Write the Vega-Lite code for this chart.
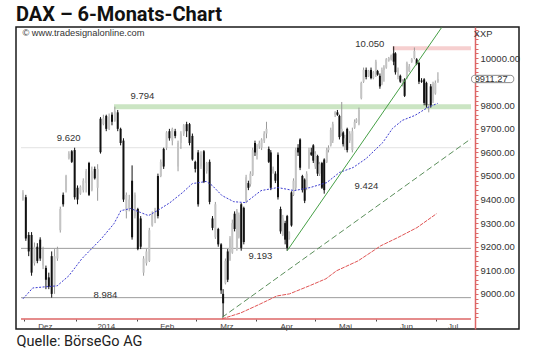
{
  "$schema": "https://vega.github.io/schema/vega-lite/v6.json",
  "width": 503,
  "height": 302,
  "autosize": {"type": "none"},
  "padding": {"left": 16, "top": 27, "right": 21, "bottom": 31},
  "background": "white",
  "title": {"text": "DAX – 6-Monats-Chart", "anchor": "start", "frame": "group", "offset": -16, "baseline": "alphabetic", "font": "Roboto", "fontSize": 20, "fontWeight": "bold", "color": "#111111"},
  "config": {"view": {"stroke": "#1a1a1a", "strokeWidth": 1.5}},
  "datasets": {
    "bars": [
      {"t":0,"o":9400,"h":9440,"l":9395,"c":9430},{"t":1,"o":9410,"h":9420,"l":9225,"c":9235},{"t":2,"o":9250,"h":9262,"l":9160,"c":9180},{"t":3,"o":9250,"h":9262,"l":9077,"c":9090},{"t":4,"o":9130,"h":9218,"l":9120,"c":9200},{"t":5,"o":9200,"h":9215,"l":9130,"c":9140},{"t":6,"o":9230,"h":9240,"l":9140,"c":9150},{"t":7,"o":9120,"h":9200,"l":9105,"c":9190},{"t":8,"o":9110,"h":9120,"l":9020,"c":9060},{"t":9,"o":9070,"h":9090,"l":9020,"c":9030},
      {"t":10,"o":9160,"h":9180,"l":8984,"c":9000},{"t":11,"o":9030,"h":9190,"l":9000,"c":9160},{"t":12,"o":9150,"h":9200,"l":9140,"c":9190},{"t":13,"o":9270,"h":9370,"l":9260,"c":9360},{"t":14,"o":9420,"h":9430,"l":9370,"c":9380},{"t":15,"o":9440,"h":9505,"l":9430,"c":9500},{"t":16,"o":9575,"h":9605,"l":9570,"c":9595},{"t":17,"o":9605,"h":9610,"l":9555,"c":9560},{"t":18,"o":9610,"h":9620,"l":9400,"c":9410},{"t":19,"o":9450,"h":9460,"l":9380,"c":9400},
      {"t":20,"o":9425,"h":9460,"l":9420,"c":9455},{"t":21,"o":9440,"h":9490,"l":9430,"c":9480},{"t":22,"o":9470,"h":9530,"l":9430,"c":9520},{"t":23,"o":9555,"h":9560,"l":9415,"c":9420},{"t":24,"o":9440,"h":9540,"l":9435,"c":9520},{"t":25,"o":9530,"h":9540,"l":9485,"c":9490},{"t":26,"o":9450,"h":9550,"l":9395,"c":9530},{"t":27,"o":9743,"h":9750,"l":9595,"c":9601},{"t":28,"o":9720,"h":9760,"l":9715,"c":9745},{"t":29,"o":9755,"h":9760,"l":9690,"c":9700},
      {"t":30,"o":9700,"h":9765,"l":9695,"c":9750},{"t":31,"o":9760,"h":9770,"l":9715,"c":9730},{"t":32,"o":9735,"h":9794,"l":9730,"c":9775},{"t":33,"o":9770,"h":9780,"l":9690,"c":9700},{"t":34,"o":9700,"h":9705,"l":9630,"c":9640},{"t":35,"o":9650,"h":9660,"l":9390,"c":9400},{"t":36,"o":9350,"h":9430,"l":9320,"c":9420},{"t":37,"o":9360,"h":9420,"l":9350,"c":9400},{"t":38,"o":9480,"h":9545,"l":9230,"c":9240},{"t":39,"o":9330,"h":9430,"l":9320,"c":9420},
      {"t":40,"o":9360,"h":9365,"l":9185,"c":9190},{"t":41,"o":9320,"h":9330,"l":9190,"c":9200},{"t":42,"o":9090,"h":9160,"l":9077,"c":9150},{"t":43,"o":9130,"h":9190,"l":9120,"c":9180},{"t":44,"o":9140,"h":9280,"l":9135,"c":9270},{"t":45,"o":9290,"h":9350,"l":9285,"c":9340},{"t":46,"o":9320,"h":9365,"l":9300,"c":9355},{"t":47,"o":9500,"h":9510,"l":9320,"c":9330},{"t":48,"o":9500,"h":9570,"l":9495,"c":9560},{"t":49,"o":9615,"h":9620,"l":9530,"c":9540},
      {"t":50,"o":9620,"h":9690,"l":9610,"c":9685},{"t":51,"o":9690,"h":9700,"l":9650,"c":9660},{"t":52,"o":9650,"h":9705,"l":9630,"c":9700},{"t":53,"o":9690,"h":9700,"l":9660,"c":9670},{"t":54,"o":9540,"h":9650,"l":9520,"c":9640},{"t":55,"o":9640,"h":9690,"l":9615,"c":9680},{"t":56,"o":9680,"h":9720,"l":9670,"c":9715},{"t":57,"o":9720,"h":9730,"l":9665,"c":9690},{"t":58,"o":9720,"h":9725,"l":9630,"c":9640},{"t":59,"o":9670,"h":9680,"l":9565,"c":9570},
      {"t":60,"o":9560,"h":9565,"l":9515,"c":9530},{"t":61,"o":9600,"h":9610,"l":9370,"c":9380},{"t":62,"o":9540,"h":9605,"l":9530,"c":9590},{"t":63,"o":9605,"h":9610,"l":9470,"c":9475},{"t":64,"o":9520,"h":9560,"l":9510,"c":9555},{"t":65,"o":9560,"h":9570,"l":9380,"c":9390},{"t":66,"o":9320,"h":9330,"l":9270,"c":9280},{"t":67,"o":9240,"h":9390,"l":9233,"c":9380},{"t":68,"o":9275,"h":9280,"l":9200,"c":9210},{"t":69,"o":9210,"h":9215,"l":9000,"c":9015},
      {"t":69.7,"o":9000,"h":9020,"l":8900,"c":8960},{"t":70.5,"o":9045,"h":9150,"l":9040,"c":9140},{"t":71.3,"o":9180,"h":9190,"l":9050,"c":9060},{"t":72.1,"o":9145,"h":9245,"l":9140,"c":9235},{"t":72.9,"o":9175,"h":9315,"l":9170,"c":9300},{"t":73.7,"o":9340,"h":9350,"l":9265,"c":9275},{"t":74.5,"o":9190,"h":9360,"l":9183,"c":9350},{"t":75.2,"o":9240,"h":9345,"l":9235,"c":9335},{"t":76,"o":9380,"h":9385,"l":9183,"c":9195},{"t":76.9,"o":9365,"h":9370,"l":9210,"c":9220},
      {"t":77.7,"o":9395,"h":9505,"l":9385,"c":9495},{"t":78.5,"o":9470,"h":9480,"l":9440,"c":9450},{"t":79.2,"o":9465,"h":9520,"l":9455,"c":9510},{"t":80,"o":9505,"h":9620,"l":9500,"c":9610},{"t":80.8,"o":9640,"h":9650,"l":9585,"c":9600},{"t":81.5,"o":9590,"h":9635,"l":9570,"c":9625},{"t":82.3,"o":9625,"h":9650,"l":9615,"c":9640},{"t":83.1,"o":9620,"h":9660,"l":9610,"c":9655},{"t":84,"o":9650,"h":9690,"l":9640,"c":9680},{"t":84.8,"o":9680,"h":9730,"l":9660,"c":9700},
      {"t":85.6,"o":9615,"h":9625,"l":9555,"c":9560},{"t":86.3,"o":9600,"h":9610,"l":9440,"c":9450},{"t":87.1,"o":9520,"h":9540,"l":9510,"c":9530},{"t":87.9,"o":9510,"h":9520,"l":9470,"c":9480},{"t":88.8,"o":9590,"h":9600,"l":9400,"c":9410},{"t":89.7,"o":9360,"h":9370,"l":9255,"c":9265},{"t":90.5,"o":9250,"h":9335,"l":9245,"c":9320},{"t":91.3,"o":9300,"h":9310,"l":9210,"c":9230},{"t":92,"o":9330,"h":9335,"l":9183,"c":9195},{"t":92.7,"o":9235,"h":9265,"l":9230,"c":9260},
      {"t":93.5,"o":9430,"h":9435,"l":9285,"c":9290},{"t":94.2,"o":9420,"h":9490,"l":9415,"c":9480},{"t":95,"o":9450,"h":9620,"l":9440,"c":9610},{"t":95.8,"o":9620,"h":9635,"l":9585,"c":9600},{"t":96.5,"o":9655,"h":9660,"l":9525,"c":9535},{"t":97.3,"o":9500,"h":9505,"l":9430,"c":9440},{"t":98.1,"o":9485,"h":9490,"l":9385,"c":9395},{"t":98.8,"o":9450,"h":9520,"l":9440,"c":9510},{"t":99.6,"o":9535,"h":9620,"l":9530,"c":9610},{"t":100.4,"o":9600,"h":9620,"l":9585,"c":9590},
      {"t":101.1,"o":9630,"h":9635,"l":9555,"c":9565},{"t":101.8,"o":9540,"h":9605,"l":9530,"c":9595},{"t":102.6,"o":9585,"h":9590,"l":9500,"c":9510},{"t":103.3,"o":9510,"h":9560,"l":9500,"c":9550},{"t":104.1,"o":9555,"h":9560,"l":9445,"c":9450},{"t":104.9,"o":9570,"h":9575,"l":9425,"c":9440},{"t":105.8,"o":9560,"h":9620,"l":9555,"c":9610},{"t":106.4,"o":9610,"h":9630,"l":9600,"c":9620},{"t":107.2,"o":9630,"h":9705,"l":9625,"c":9695},{"t":107.9,"o":9650,"h":9730,"l":9640,"c":9720},
      {"t":108.7,"o":9760,"h":9775,"l":9750,"c":9770},{"t":109.5,"o":9770,"h":9780,"l":9755,"c":9760},{"t":110.2,"o":9755,"h":9760,"l":9655,"c":9665},{"t":111,"o":9680,"h":9814,"l":9670,"c":9700},{"t":111.5,"o":9685,"h":9690,"l":9625,"c":9635},{"t":112.1,"o":9620,"h":9675,"l":9610,"c":9660},{"t":112.9,"o":9700,"h":9705,"l":9600,"c":9610},{"t":113.8,"o":9650,"h":9690,"l":9640,"c":9680},{"t":114.7,"o":9610,"h":9705,"l":9600,"c":9690},{"t":115.5,"o":9705,"h":9740,"l":9700,"c":9730},
      {"t":116.1,"o":9730,"h":9745,"l":9725,"c":9740},{"t":117,"o":9720,"h":9790,"l":9715,"c":9780},{"t":117.8,"o":9830,"h":9900,"l":9825,"c":9895},{"t":118.6,"o":9900,"h":9960,"l":9895,"c":9950},{"t":119.5,"o":9950,"h":9960,"l":9910,"c":9920},{"t":120.4,"o":9925,"h":9950,"l":9920,"c":9945},{"t":121.2,"o":9950,"h":9960,"l":9910,"c":9915},{"t":122,"o":9915,"h":9945,"l":9910,"c":9940},{"t":122.9,"o":9930,"h":9993,"l":9920,"c":9985},{"t":123.5,"o":9945,"h":9950,"l":9925,"c":9930},
      {"t":124.3,"o":9925,"h":9935,"l":9870,"c":9880},{"t":125,"o":9890,"h":9960,"l":9885,"c":9950},{"t":125.7,"o":9950,"h":9970,"l":9900,"c":9960},{"t":126.5,"o":9960,"h":10000,"l":9955,"c":9995},{"t":127.4,"o":9990,"h":10005,"l":9985,"c":10000},{"t":128.2,"o":9995,"h":10015,"l":9990,"c":10010},{"t":129.1,"o":10020,"h":10050,"l":9970,"c":9985},{"t":129.7,"o":10020,"h":10025,"l":9930,"c":9940},{"t":130.6,"o":9920,"h":9960,"l":9910,"c":9950},{"t":131.4,"o":9925,"h":9930,"l":9895,"c":9900},
      {"t":132.2,"o":9890,"h":9910,"l":9880,"c":9905},{"t":132.9,"o":9910,"h":9915,"l":9835,"c":9840},{"t":133.7,"o":9915,"h":9985,"l":9910,"c":9980},{"t":134.5,"o":9945,"h":9975,"l":9940,"c":9965},{"t":135.4,"o":9985,"h":10000,"l":9980,"c":9995},{"t":136.3,"o":10000,"h":10045,"l":9995,"c":10030},{"t":137.1,"o":9995,"h":10000,"l":9970,"c":9975},{"t":137.9,"o":9980,"h":9985,"l":9890,"c":9900},{"t":138.8,"o":9905,"h":9915,"l":9895,"c":9900},{"t":139.7,"o":9910,"h":9915,"l":9800,"c":9810},
      {"t":140.5,"o":9895,"h":9900,"l":9790,"c":9800},{"t":141.3,"o":9790,"h":9805,"l":9770,"c":9800},{"t":142,"o":9880,"h":9890,"l":9790,"c":9800},{"t":142.8,"o":9820,"h":9900,"l":9810,"c":9890},{"t":143.6,"o":9850,"h":9905,"l":9845,"c":9895},{"t":144.5,"o":9900,"h":9940,"l":9895,"c":9911}
    ],
    "ma": [
      {"t":0,"p":8979},{"t":3.4,"p":9025},{"t":7.8,"p":9030},{"t":11.9,"p":9034},{"t":16,"p":9077},{"t":20.5,"p":9149},{"t":27.3,"p":9234},{"t":31.7,"p":9298},{"t":34.1,"p":9353},{"t":37.5,"p":9362},{"t":41,"p":9345},{"t":43.7,"p":9332},{"t":46.8,"p":9353},{"t":51.2,"p":9387},{"t":55.6,"p":9430},{"t":59,"p":9468},{"t":61.4,"p":9472},{"t":63.8,"p":9477},{"t":65.9,"p":9460},{"t":69.3,"p":9417},{"t":73.4,"p":9391},{"t":77.5,"p":9387},{"t":82.9,"p":9438},{"t":88.7,"p":9451},{"t":94.5,"p":9438},{"t":100,"p":9451},{"t":105.8,"p":9472},{"t":110.2,"p":9515},{"t":115,"p":9536},{"t":119.5,"p":9574},{"t":125.3,"p":9642},{"t":128.7,"p":9702},{"t":132.1,"p":9736},{"t":136.5,"p":9757},{"t":141,"p":9791},{"t":144.4,"p":9808}
    ],
    "vwap": [
      {"t":69.3,"p":8894},{"t":75.8,"p":8919},{"t":82.6,"p":8957},{"t":88.4,"p":8991},{"t":92.8,"p":9000},{"t":99.7,"p":9034},{"t":105.5,"p":9064},{"t":109.2,"p":9098},{"t":116.7,"p":9140},{"t":124.6,"p":9204},{"t":130.4,"p":9238},{"t":137.2,"p":9281},{"t":144,"p":9340}
    ],
    "trendUp": [{"t":92,"p":9183},{"t":145.8,"p":10130}],
    "trendMid": [{"t":69.3,"p":8900},{"t":156,"p":9658}],
    "levels": [
      {"t":-0.68,"t2":156,"p":9620,"kind":"faint"},
      {"t":31.7,"t2":156,"p":9794,"kind":"support"},
      {"t":128.7,"t2":156,"p":10042,"kind":"high"},
      {"t":-0.68,"t2":156,"p":8984,"kind":"grey"},
      {"t":-0.68,"t2":156,"p":9193,"kind":"grey"},
      {"t":-0.68,"t2":156,"p":8893,"kind":"base"}
    ],
    "tag": [{"t":156.2,"t2":170.9,"p":9896,"p2":9927}],
    "notes": [
      {"t":41.6,"p":9840,"text":"9.794","kind":"level"},
      {"t":15.9,"p":9660,"text":"9.620","kind":"level"},
      {"t":28.7,"p":8996,"text":"8.984","kind":"level"},
      {"t":82.7,"p":9162,"text":"9.193","kind":"level"},
      {"t":119.6,"p":9457,"text":"9.424","kind":"level"},
      {"t":120.8,"p":10062,"text":"10.050","kind":"level"},
      {"t":-0.2,"p":10108,"text":"© www.tradesignalonline.com","kind":"note"},
      {"t":157,"p":10102,"text":"XXP","kind":"note"},
      {"t":157.3,"p":9911.27,"text":"9911.27","kind":"note"}
    ]
  },
  "encoding": {
    "x": {
      "field": "t", "type": "quantitative",
      "scale": {"domain": [-0.683, 170.99], "nice": false, "zero": false},
      "axis": {
        "orient": "bottom", "offset": -10, "domain": false, "grid": false,
        "values": [0.34, 18.4, 39.6, 60.4, 81.2, 101.7, 122.9, 143.7],
        "labelExpr": "datum.value < 5 ? 'Dez' : datum.value < 30 ? '2014' : datum.value < 50 ? 'Feb' : datum.value < 70 ? 'Mrz' : datum.value < 90 ? 'Apr' : datum.value < 110 ? 'Mai' : datum.value < 130 ? 'Jun' : 'Jul'",
        "labelOffset": {"condition": [{"test": "datum.value < 5", "value": 21}, {"test": "datum.value > 140", "value": 17}], "value": 30},
        "ticks": true, "tickSize": 2, "tickColor": "#444444",
        "labelFont": "Liberation Sans", "labelFontSize": 8, "labelColor": "#444444", "labelPadding": 1,
        "labelAlign": "center", "labelBaseline": "top", "labelFlush": false, "labelOverlap": false,
        "title": "Quelle: BörseGo AG", "titleX": 0, "titleY": 26, "titleAlign": "left", "titleAnchor": "start",
        "titleBaseline": "alphabetic", "titleFont": "Roboto", "titleFontSize": 14.5,
        "titleFontWeight": "normal", "titleColor": "#222222"
      }
    },
    "y": {
      "field": "p", "type": "quantitative",
      "scale": {"domain": [8851, 10132], "nice": false, "zero": false},
      "axis": {
        "orient": "right", "offset": -44, "grid": false, "title": null,
        "values": [8900,8920,8940,8960,8980,9000,9020,9040,9060,9080,9100,9120,9140,9160,9180,9200,9220,9240,9260,9280,9300,9320,9340,9360,9380,9400,9420,9440,9460,9480,9500,9520,9540,9560,9580,9600,9620,9640,9660,9680,9700,9720,9740,9760,9780,9800,9820,9840,9860,9880,9900,9920,9940,9960,9980,10000,10020,10040,10060,10080,10100,10120],
        "labelExpr": "(datum.value % 100 === 0 && datum.value >= 9000 && datum.value <= 10000 && datum.value !== 9900) ? format(datum.value, '.2f') : ''",
        "domain": true, "domainColor": "#dd6666", "domainWidth": 1.5,
        "ticks": true, "tickColor": "#dd6666", "tickSize": 3,
        "labelFont": "Liberation Sans", "labelFontSize": 9.5, "labelColor": "#333333", "labelPadding": 2,
        "labelBaseline": "middle", "labelFlush": false, "labelOverlap": false
      }
    }
  },
  "layer": [
    {"data": {"name": "levels"}, "transform": [{"filter": "datum.kind === 'faint'"}], "mark": {"type": "rule", "color": "#e3e3e3", "strokeWidth": 1}, "encoding": {"x2": {"field": "t2"}}},
    {"data": {"name": "levels"}, "transform": [{"filter": "datum.kind === 'support'"}], "mark": {"type": "rule", "color": "#cbe5c3", "strokeWidth": 5}, "encoding": {"x2": {"field": "t2"}}},
    {"data": {"name": "levels"}, "transform": [{"filter": "datum.kind === 'high'"}], "mark": {"type": "rule", "color": "#f6cfcf", "strokeWidth": 4}, "encoding": {"x2": {"field": "t2"}}},
    {"data": {"name": "levels"}, "transform": [{"filter": "datum.kind === 'grey'"}], "mark": {"type": "rule", "color": "#9c9c9c", "strokeWidth": 1}, "encoding": {"x2": {"field": "t2"}}},
    {"data": {"name": "levels"}, "transform": [{"filter": "datum.kind === 'base'"}], "mark": {"type": "rule", "color": "#dd6666", "strokeWidth": 1.5}, "encoding": {"x2": {"field": "t2"}}},
    {"data": {"name": "bars"}, "mark": {"type": "rule", "strokeWidth": 1},
     "encoding": {
       "y": {"field": "l", "type": "quantitative", "scale": {"domain": [8851, 10132], "nice": false, "zero": false}},
       "y2": {"field": "h"},
       "color": {"condition": {"test": "datum.o > datum.c", "value": "#111111"}, "value": "#9a9a9a"}
     }},
    {"data": {"name": "bars"}, "mark": {"type": "bar", "size": 2},
     "encoding": {
       "y": {"field": "o", "type": "quantitative", "scale": {"domain": [8851, 10132], "nice": false, "zero": false}},
       "y2": {"field": "c"},
       "color": {"condition": {"test": "datum.o > datum.c", "value": "#111111"}, "value": "#c4c4c4"}
     }},
    {"data": {"name": "ma"}, "mark": {"type": "line", "color": "#3b3bd0", "strokeWidth": 1, "strokeDash": [2, 1.5]}},
    {"data": {"name": "vwap"}, "mark": {"type": "line", "color": "#e05555", "strokeWidth": 1, "strokeDash": [4, 1]}},
    {"data": {"name": "trendUp"}, "mark": {"type": "line", "color": "#46a046", "strokeWidth": 1}},
    {"data": {"name": "trendMid"}, "mark": {"type": "line", "color": "#5b8f5b", "strokeWidth": 1, "strokeDash": [6, 3]}},
    {"data": {"name": "tag"}, "mark": {"type": "rect", "fill": "white", "stroke": "#888888", "strokeWidth": 1, "cornerRadius": 3},
     "encoding": {"x2": {"field": "t2"}, "y2": {"field": "p2"}}},
    {"data": {"name": "notes"}, "transform": [{"filter": "datum.kind === 'level'"}],
     "mark": {"type": "text", "align": "center", "baseline": "middle", "font": "Liberation Sans", "fontSize": 9.5, "color": "#333333"},
     "encoding": {"text": {"field": "text"}}},
    {"data": {"name": "notes"}, "transform": [{"filter": "datum.kind === 'note'"}],
     "mark": {"type": "text", "align": "left", "baseline": "middle", "font": "Liberation Sans", "fontSize": 9.3, "color": "#333333"},
     "encoding": {"text": {"field": "text"}}}
  ]
}
